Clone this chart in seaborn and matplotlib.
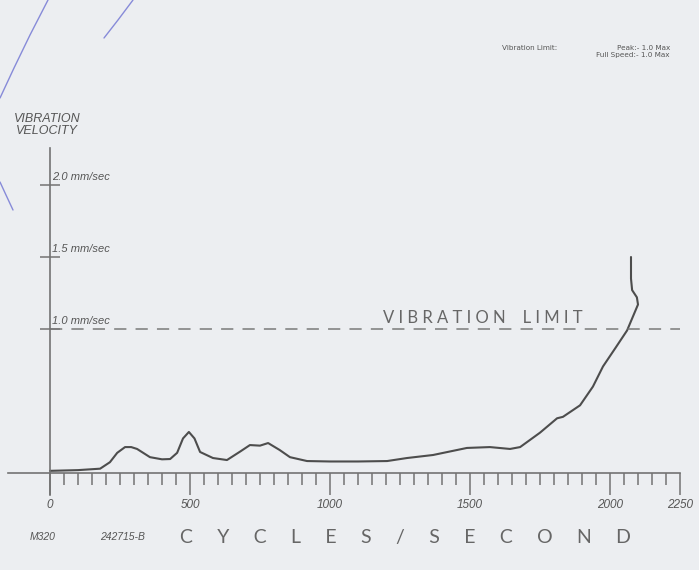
import numpy as np
import pandas as pd
import matplotlib
matplotlib.use("Agg")
import matplotlib.pyplot as plt
from matplotlib.lines import Line2D
from matplotlib.ticker import FixedLocator
import seaborn as sns

# --- style ---
PAPER = "#eceef1"
INK = "#555555"
CURVE = "#4d4d4d"
AXIS = "#737373"
NARROW = ["Liberation Sans", "DejaVu Sans"]

sns.set_style("white")
plt.rcParams.update({
    "figure.facecolor": PAPER,
    "axes.facecolor": PAPER,
    "text.color": INK,
})

# --- data ---
freq = [0, 100, 179, 214, 240, 268, 290, 311, 357, 400, 429, 454, 475, 496,
        516, 536, 582, 632, 680, 714, 750, 779, 820, 857, 918, 1000, 1100,
        1204, 1275, 1368, 1489, 1571, 1643, 1679, 1750, 1811, 1832, 1893,
        1939, 1975, 2020, 2061, 2100, 2096, 2079, 2075, 2075]
velocity = [0.015, 0.02, 0.03, 0.075, 0.14, 0.18, 0.18, 0.167, 0.11, 0.095,
            0.097, 0.14, 0.24, 0.285, 0.24, 0.146, 0.104, 0.09, 0.15, 0.194,
            0.19, 0.208, 0.16, 0.11, 0.083, 0.08, 0.08, 0.083, 0.104, 0.125,
            0.174, 0.18, 0.167, 0.18, 0.28, 0.38, 0.39, 0.47, 0.6, 0.74, 0.87,
            0.99, 1.17, 1.22, 1.27, 1.35, 1.5]
y_ticks = [1.0, 1.5, 2.0]
x_ticks = [0, 500, 1000, 1500, 2000, 2250]
limit = 1.0

df = pd.DataFrame({"freq": freq, "velocity": velocity})

fig = plt.figure(figsize=(6.99, 5.70), dpi=100)
ax = fig.add_axes([0, 0, 1, 1])

sns.lineplot(data=df, x="freq", y="velocity", sort=False, estimator=None,
             color=CURVE, lw=1.5, ax=ax)

# vibration limit
ax.plot([0, 2250], [limit, limit], color="#7a7a7a", lw=1.1, dashes=(8, 6))

# scale: x 0 -> 50px, 0.28 px/unit; y 0 -> 473px from top, 144 px/unit
ax.set_xlim(-50 / 0.28, (699 - 50) / 0.28)
ax.set_ylim((473 - 570) / 144, 473 / 144)

for s in ["top", "right"]:
    ax.spines[s].set_visible(False)
ax.spines["left"].set_position(("data", 0))
ax.spines["bottom"].set_position(("data", 0))
ax.spines["left"].set_bounds((473 - 495) / 144, (473 - 148) / 144)
ax.spines["bottom"].set_bounds(-150, 2250)
for s in ["left", "bottom"]:
    ax.spines[s].set_color(AXIS)
    ax.spines[s].set_linewidth(1.2)

ax.set_xticks(x_ticks)
ax.set_xticklabels([str(t) for t in x_ticks], fontstyle="italic",
                   family=NARROW, fontsize=8.5, color=INK)
minor = [m for m in range(50, 2250, 50) if m not in x_ticks]
ax.xaxis.set_minor_locator(FixedLocator(minor))
ax.tick_params(axis="x", which="major", direction="out", length=16,
               width=1.1, color=AXIS, pad=3, bottom=True)
ax.tick_params(axis="x", which="minor", direction="out", length=8.5,
               width=1.1, color=AXIS, bottom=True)

ax.set_yticks(y_ticks)
ax.set_yticklabels([])
ax.tick_params(axis="y", which="major", direction="inout", length=14,
               width=1.1, color=AXIS, left=True)
for v in y_ticks:
    ax.text(8, v + 0.02, f"{v:.1f} mm/sec", fontstyle="italic", family=NARROW,
            fontsize=8, color=INK, ha="left", va="bottom")
ax.set_xlabel("")
ax.set_ylabel("")

# titles and notes
fig.text(47 / 699, 1 - 125 / 570, "VIBRATION\nVELOCITY", ha="center",
         va="center", multialignment="center", fontstyle="italic",
         family=NARROW, fontsize=9, color=INK, linespacing=1.1)
ax.text(1546, 1.076,
        "\u2009\u2009".join("VIBRATION") + "    " + "\u2009\u2009".join("LIMIT"),
        ha="center", va="center", fontsize=12, color="#666666",
        family=["Lato", "DejaVu Sans"])
fig.text(405 / 699, 1 - 537 / 570, "\u2003\u2002".join("CYCLES/SECOND"),
         ha="center", va="center", fontsize=14, color="#666666",
         family=["Lato", "DejaVu Sans"])
fig.text(30 / 699, 1 - 537 / 570, "M320", fontstyle="italic", family=NARROW,
         fontsize=7.5, color=INK, va="center", ha="left")
fig.text(100 / 699, 1 - 537 / 570, "242715-B", fontstyle="italic",
         family=NARROW, fontsize=7.5, color=INK, va="center", ha="left")

fig.text(502 / 699, 1 - 48 / 570, "Vibration Limit:", fontsize=5.2, color=INK,
         va="center", ha="left")
fig.text(670 / 699, 1 - 48 / 570, "Peak:- 1.0 Max", fontsize=5.2, color=INK,
         va="center", ha="right")
fig.text(670 / 699, 1 - 55.5 / 570, "Full Speed:- 1.0 Max", fontsize=5.2,
         color=INK, va="center", ha="right")

# decorative blue strokes from the page edge
blue = "#7c80d6"
for xs, ys in [([48, 30, 14, 0], [0, 35, 68, 98]),
               ([133, 118, 104], [0, 20, 38]),
               ([0, 6, 13], [182, 195, 210])]:
    fig.add_artist(Line2D([x / 699 for x in xs], [1 - y / 570 for y in ys],
                          color=blue, lw=1.0, alpha=0.9))

fig.savefig("out.png", dpi=100, facecolor=PAPER)
